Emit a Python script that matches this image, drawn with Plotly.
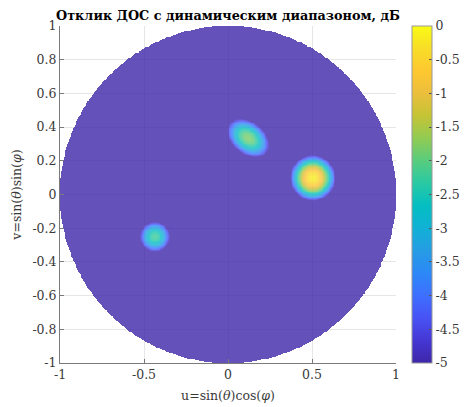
import numpy as np
import plotly.graph_objects as go

# ---- data ----
src_u = [0.505, 0.12, -0.435]
src_v = [0.098, 0.335, -0.25]
src_peak_db = [-0.15, -1.8, -2.2]
src_sigma_major = [0.09, 0.115, 0.078]
src_sigma_minor = [0.09, 0.078, 0.078]
src_angle_deg = [0, -38, 0]

db_min = -5
db_max = 0
grid_n = 401

x_tickvals = [-1, -0.5, 0, 0.5, 1]
x_ticktext = ["-1", "-0.5", "0", "0.5", "1"]
y_tickvals = [-1, -0.8, -0.6, -0.4, -0.2, 0, 0.2, 0.4, 0.6, 0.8, 1]
y_ticktext = ["-1", "-0.8", "-0.6", "-0.4", "-0.2", "0", "0.2", "0.4", "0.6", "0.8", "1"]
cb_tickvals = [0, -0.5, -1, -1.5, -2, -2.5, -3, -3.5, -4, -4.5, -5]
cb_ticktext = ["0", "-0.5", "-1", "-1.5", "-2", "-2.5", "-3", "-3.5", "-4", "-4.5", "-5"]

title_text = "<b>Отклик ДОС с динамическим диапазоном, дБ</b>"
xlabel = "u=sin(<i>θ</i>)cos(<i>φ</i>)"
ylabel = "v=sin(<i>θ</i>)sin(<i>φ</i>)"

parula = [
    (0.2422, 0.1504, 0.6603), (0.2725, 0.2169, 0.8296), (0.2810, 0.3228, 0.9579),
    (0.2450, 0.4336, 0.9984), (0.1707, 0.5338, 0.9683), (0.1475, 0.6127, 0.8958),
    (0.0680, 0.6924, 0.8393), (0.0147, 0.7470, 0.7590), (0.1596, 0.7872, 0.6422),
    (0.3467, 0.8016, 0.4924), (0.5685, 0.7948, 0.3256), (0.7691, 0.7667, 0.2094),
    (0.9221, 0.7438, 0.2356), (0.9954, 0.7826, 0.1892), (0.9738, 0.8686, 0.1549),
    (0.9769, 0.9839, 0.0805),
]

# ---- build field ----
u = np.linspace(-1, 1, grid_n)
v = np.linspace(-1, 1, grid_n)
U, V = np.meshgrid(u, v)
P = np.full(U.shape, 1e-12)
for su, sv, pk, sa, sb, ang in zip(src_u, src_v, src_peak_db, src_sigma_major,
                                   src_sigma_minor, src_angle_deg):
    t = np.deg2rad(ang)
    du, dv = U - su, V - sv
    a = du * np.cos(t) + dv * np.sin(t)
    b = -du * np.sin(t) + dv * np.cos(t)
    P += 10 ** (pk / 10) * np.exp(-(a ** 2 / (2 * sa ** 2) + b ** 2 / (2 * sb ** 2)))
Z = 10 * np.log10(P)
Z = np.clip(Z, db_min, db_max)
Z[U ** 2 + V ** 2 > 1] = np.nan
Z = np.round(Z, 3)

n = len(parula)
colorscale = [[i / (n - 1), "rgb(%d,%d,%d)" % tuple(int(round(c * 255)) for c in col)]
              for i, col in enumerate(parula)]

ff = "DejaVu Serif"
axis_col = "#7a7a7a"
fs = 12.5
txt_col = "#3a3a3a"

fig = go.Figure(go.Heatmap(
    x=u, y=v, z=Z, zmin=db_min, zmax=db_max, colorscale=colorscale,
    opacity=0.8, hoverongaps=False,
    colorbar=dict(
        x=1.0476, xanchor="left", xpad=0, y=0.5, yanchor="middle", len=1,
        lenmode="fraction", ypad=0, thickness=20, thicknessmode="pixels",
        outlinewidth=1, outlinecolor="#999999",
        tickmode="array", tickvals=cb_tickvals, ticktext=cb_ticktext,
        ticks="inside", ticklen=3, tickcolor="#555555",
        tickfont=dict(family=ff, size=fs, color=txt_col),
    ),
))

common_axis = dict(
    range=[-1, 1], showline=True, linecolor=axis_col, linewidth=1,
    ticks="inside", ticklen=4, tickcolor=axis_col, showgrid=True,
    gridcolor="#e6e6e6", gridwidth=1, zeroline=False, mirror=False,
    tickfont=dict(family=ff, size=fs, color=txt_col),
    tickmode="array",
)

fig.update_layout(
    width=465, height=407,
    margin=dict(l=60, r=69, t=26, b=44, autoexpand=False),
    paper_bgcolor="white", plot_bgcolor="white",
    font=dict(family=ff, color=txt_col),
    title=dict(text=title_text, x=(60 + 396) / 2 / 465, xanchor="center",
               y=1 - 16 / 407, yanchor="middle",
               font=dict(family=ff, size=12.8, color="#000000")),
    xaxis=dict(common_axis, tickvals=x_tickvals, ticktext=x_ticktext,
               title=dict(text=xlabel, standoff=10,
                          font=dict(family=ff, size=fs, color=txt_col))),
    yaxis=dict(common_axis, tickvals=y_tickvals, ticktext=y_ticktext,
               title=dict(text=ylabel, standoff=8,
                          font=dict(family=ff, size=fs, color=txt_col))),
)

fig.write_html("out.html")
